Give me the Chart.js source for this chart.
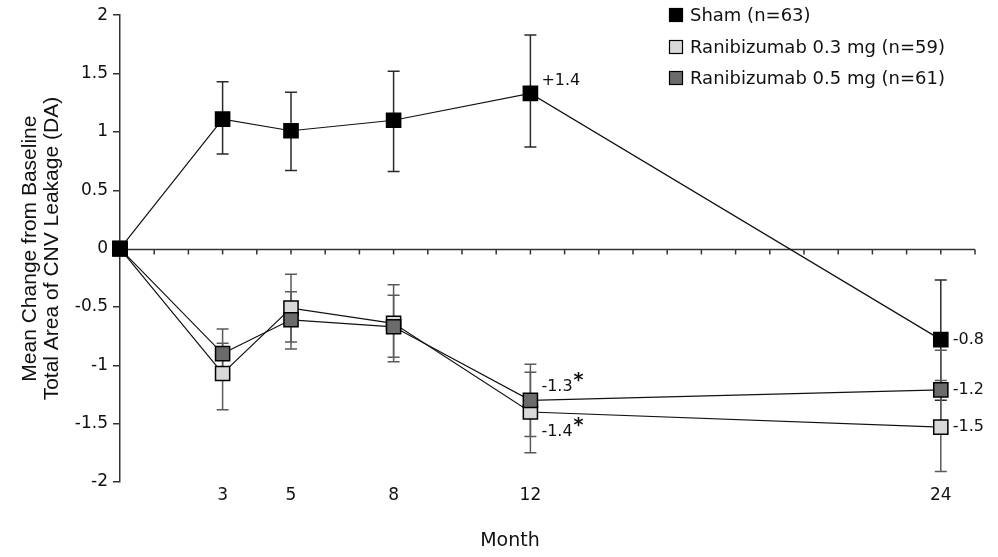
<!DOCTYPE html>
<html>
<head>
<meta charset="utf-8">
<script src="https://cdn.jsdelivr.net/npm/chart.js@4.4.1/dist/chart.umd.min.js"></script>
<style>
  html, body { margin: 0; padding: 0; background: #fff; }
  #wrap { width: 998px; height: 557px; }
</style>
</head>
<body>
<div id="wrap"><canvas id="cnvChart" width="998" height="557"></canvas></div>
<script>
// Month of each visit
const months = [0, 3, 5, 8, 12, 24];
const monthTicks = [3, 5, 8, 12, 24];

// Series names
const seriesNames = ['Sham (n=63)', 'Ranibizumab 0.3 mg (n=59)', 'Ranibizumab 0.5 mg (n=61)'];

// Mean change from baseline in total area of CNV leakage (DA), with error bar ends
const shamMean  = [0, 1.11, 1.01, 1.10, 1.33, -0.78];
const shamUpper = [0, 1.43, 1.34, 1.52, 1.83, -0.27];
const shamLower = [0, 0.81, 0.67, 0.66, 0.87, -1.30];

const rani03Mean  = [0, -1.07, -0.51, -0.64, -1.40, -1.53];
const rani03Upper = [0, -0.81, -0.22, -0.31, -1.06, -1.13];
const rani03Lower = [0, -1.38, -0.80, -0.97, -1.75, -1.91];

const rani05Mean  = [0, -0.90, -0.61, -0.67, -1.30, -1.21];
const rani05Upper = [0, -0.69, -0.37, -0.40, -0.99, -0.87];
const rani05Lower = [0, -1.10, -0.86, -0.93, -1.61, -1.55];

// Value labels written next to points
const shamLabels   = ['', '', '', '', '+1.4', '-0.8'];
const rani03Labels = ['', '', '', '', '-1.4*', '-1.5'];
const rani05Labels = ['', '', '', '', '-1.3*', '-1.2'];

const TEXT_FONT = 'DejaVu Sans';

function toPoints(values) {
    return months.map((m, i) => ({ x: m, y: values[i] }));
}

// Draws the zero line with its monthly tick marks
const zeroAxisPlugin = {
    id: 'zeroAxis',
    beforeDatasetsDraw(chart) {
        const { ctx, chartArea, scales } = chart;
        const y0 = Math.round(scales.y.getPixelForValue(0)) + 0.5;
        ctx.save();
        ctx.strokeStyle = '#333';
        ctx.lineWidth = 1.5;
        ctx.beginPath();
        ctx.moveTo(chartArea.left, y0);
        ctx.lineTo(chartArea.right, y0);
        for (let m = 1; m <= scales.x.max; m++) {
            const x = scales.x.getPixelForValue(m);
            ctx.moveTo(x, y0);
            ctx.lineTo(x, y0 + 5);
        }
        ctx.stroke();
        ctx.restore();
    }
};

// Error bars from the dataset's upper / lower arrays
const errorBarPlugin = {
    id: 'errorBars',
    beforeDatasetsDraw(chart) {
        const { ctx, scales } = chart;
        ctx.save();
        chart.data.datasets.forEach((ds) => {
            ctx.strokeStyle = ds.errorColor;
            ctx.lineWidth = 1.5;
            ds.upper.forEach((hi, i) => {
                const lo = ds.lower[i];
                if (hi === lo) return;
                const x = scales.x.getPixelForValue(months[i]);
                const yHi = scales.y.getPixelForValue(hi);
                const yLo = scales.y.getPixelForValue(lo);
                ctx.beginPath();
                ctx.moveTo(x, yHi);
                ctx.lineTo(x, yLo);
                ctx.moveTo(x - 6, yHi);
                ctx.lineTo(x + 6, yHi);
                ctx.moveTo(x - 6, yLo);
                ctx.lineTo(x + 6, yLo);
                ctx.stroke();
            });
        });
        ctx.restore();
    }
};

// Value labels beside points; trailing * is drawn raised
const valueLabelPlugin = {
    id: 'valueLabels',
    afterDatasetsDraw(chart) {
        const { ctx, scales } = chart;
        ctx.save();
        ctx.fillStyle = '#111';
        ctx.textBaseline = 'middle';
        ctx.textAlign = 'left';
        chart.data.datasets.forEach((ds, d) => {
            ds.valueLabels.forEach((txt, i) => {
                if (!txt) return;
                const x = scales.x.getPixelForValue(months[i]);
                const y = scales.y.getPixelForValue(ds.data[i].y);
                let dy = 0;
                if (months[i] === 12) dy = (d === 1) ? 20 : -13;
                const star = txt.endsWith('*');
                const body = star ? txt.slice(0, -1) : txt;
                ctx.font = '16px "' + TEXT_FONT + '"';
                const tx = x + (months[i] === 12 ? 11 : 12);
                ctx.fillText(body, tx, y + dy);
                if (star) {
                    const w = ctx.measureText(body).width;
                    ctx.font = 'bold 19px "' + TEXT_FONT + '"';
                    ctx.fillText('*', tx + w + 1, y + dy - 6);
                }
            });
        });
        ctx.restore();
    }
};

// Legend in the top right corner and the x axis title
const legendPlugin = {
    id: 'cornerLegend',
    afterDraw(chart) {
        const { ctx } = chart;
        ctx.save();
        const rowY = [15, 47, 78];
        chart.data.datasets.forEach((ds, d) => {
            ctx.fillStyle = ds.backgroundColor;
            ctx.strokeStyle = '#000';
            ctx.lineWidth = 1.2;
            ctx.fillRect(669.5, rowY[d] - 6.5, 13, 13);
            ctx.strokeRect(669.5, rowY[d] - 6.5, 13, 13);
            ctx.fillStyle = '#111';
            ctx.font = '18px "' + TEXT_FONT + '"';
            ctx.textBaseline = 'middle';
            ctx.textAlign = 'left';
            ctx.fillText(seriesNames[d], 690, rowY[d] + 1);
        });
        ctx.font = '19px "' + TEXT_FONT + '"';
        ctx.textAlign = 'center';
        ctx.fillText('Month', 510, 541);
        ctx.restore();
    }
};

const ctx = document.getElementById('cnvChart').getContext('2d');
const cnvChart = new Chart(ctx, {
    type: 'line',
    data: {
        datasets: [
            {
                label: seriesNames[0],
                data: toPoints(shamMean),
                upper: shamUpper, lower: shamLower, valueLabels: shamLabels,
                backgroundColor: '#000000',
                errorColor: '#2a2a2a',
                order: 0
            },
            {
                label: seriesNames[1],
                data: toPoints(rani03Mean),
                upper: rani03Upper, lower: rani03Lower, valueLabels: rani03Labels,
                backgroundColor: '#d9d9d9',
                errorColor: '#5a5a5a',
                order: 2
            },
            {
                label: seriesNames[2],
                data: toPoints(rani05Mean),
                upper: rani05Upper, lower: rani05Lower, valueLabels: rani05Labels,
                backgroundColor: '#6b6b6b',
                errorColor: '#5a5a5a',
                order: 1
            }
        ]
    },
    options: {
        responsive: false,
        animation: false,
        layout: { padding: { top: 15, right: 23, bottom: 0, left: 0 } },
        datasets: {
            line: {
                borderColor: '#111',
                borderWidth: 1.2,
                tension: 0,
                fill: false,
                clip: false,
                pointStyle: 'rect',
                pointRadius: 10,
                pointBorderColor: '#000',
                pointBorderWidth: 1.5
            }
        },
        plugins: {
            legend: { display: false },
            tooltip: { enabled: false }
        },
        scales: {
            x: {
                type: 'linear',
                min: 0,
                max: 25,
                afterBuildTicks: (scale) => { scale.ticks = monthTicks.map(v => ({ value: v })); },
                afterFit: (scale) => { scale.height = 75; },
                grid: { display: false, drawTicks: false },
                border: { display: false },
                ticks: {
                    autoSkip: false,
                    maxRotation: 0,
                    padding: 3,
                    color: '#111',
                    font: { family: TEXT_FONT, size: 17 }
                }
            },
            y: {
                min: -2,
                max: 2,
                afterFit: (scale) => { scale.width = 120; },
                grid: { drawOnChartArea: false, tickLength: 7, color: '#333', lineWidth: 1.5 },
                border: { color: '#333', width: 1.5 },
                ticks: {
                    stepSize: 0.5,
                    padding: 5,
                    color: '#111',
                    font: { family: TEXT_FONT, size: 17 },
                    callback: (v) => String(v)
                },
                title: {
                    display: true,
                    text: ['Mean Change from Baseline', 'Total Area of CNV Leakage (DA)'],
                    color: '#111',
                    font: { family: 'Liberation Sans', size: 21, lineHeight: 1.05 },
                    padding: { top: 19, bottom: 0 }
                }
            }
        }
    },
    plugins: [zeroAxisPlugin, errorBarPlugin, valueLabelPlugin, legendPlugin]
});
</script>
</body>
</html>
